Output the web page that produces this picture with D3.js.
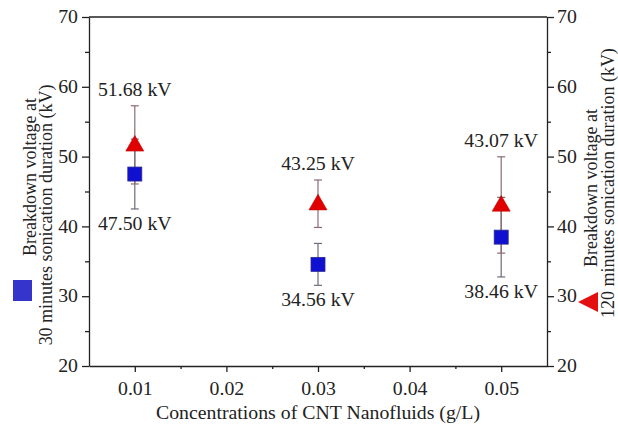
<!DOCTYPE html>
<html><head><meta charset="utf-8">
<script src="https://cdn.jsdelivr.net/npm/d3@7"></script>
<style>
html,body{margin:0;padding:0;background:#fff;}
svg text{font-family:"Liberation Serif","DejaVu Serif","Noto Serif",serif !important;fill:#222;}
</style></head>
<body><svg id="c" width="618" height="426"></svg>
<script>
const concentrations = [0.01, 0.03, 0.05];
const bv30 = [47.50, 34.56, 38.46];
const bv30Err = [5.0, 3.0, 5.7];
const bv120 = [51.68, 43.25, 43.07];
const bv120Err = [5.6, 3.4, 6.9];
const xTicks = [0.01, 0.02, 0.03, 0.04, 0.05];
const xMinor = [0.015, 0.025, 0.035, 0.045];
const yTicks = [20, 30, 40, 50, 60, 70];
const yMinor = [25, 35, 45, 55, 65];
const xTitle = "Concentrations of CNT Nanofluids (g/L)";
const yLeftTitle = ["Breakdown voltage at", "30 minutes sonication duration (kV)"];
const yRightTitle = ["Breakdown voltage at", "120 minutes sonication duration (kV)"];

const FONT = "'Liberation Serif', 'DejaVu Serif', 'Noto Serif', serif";
const svg = d3.select("#c");
const L = 89, R = 547, T = 17, B = 366;
const x = d3.scaleLinear().domain([0.005, 0.055]).range([L, R]);
const y = d3.scaleLinear().domain([20, 70]).range([B, T]);
const fs = 18;
const stretch = 1.1;
const axColor = "#222";

svg.append("line").attr("x1", L).attr("x2", R).attr("y1", T).attr("y2", T)
  .attr("stroke", axColor).attr("stroke-width", 1.3);

function styleAxis(g) {
  g.attr("font-family", FONT).attr("font-size", fs);
  g.selectAll("path,line").attr("stroke", axColor).attr("stroke-width", 1.3);
  g.selectAll("text").attr("font-size", fs).style("font-family", FONT).attr("fill", "#222").classed("hz", true);
}
const gx = svg.append("g").attr("transform", `translate(0,${B})`)
  .call(d3.axisBottom(x).tickValues(xTicks).tickFormat(d3.format(".2f")).tickSize(6).tickPadding(10).tickSizeOuter(0));
styleAxis(gx);
const gxm = svg.append("g").attr("transform", `translate(0,${B})`)
  .call(d3.axisBottom(x).tickValues(xMinor).tickFormat("").tickSize(3).tickSizeOuter(0));
styleAxis(gxm); gxm.select("path").remove();

const gl = svg.append("g").attr("transform", `translate(${L},0)`)
  .call(d3.axisLeft(y).tickValues(yTicks).tickSize(7).tickPadding(4).tickSizeOuter(0));
styleAxis(gl);
const glm = svg.append("g").attr("transform", `translate(${L},0)`)
  .call(d3.axisLeft(y).tickValues(yMinor).tickFormat("").tickSize(4).tickSizeOuter(0));
styleAxis(glm); glm.select("path").remove();

const gr = svg.append("g").attr("transform", `translate(${R},0)`)
  .call(d3.axisRight(y).tickValues(yTicks).tickSize(7).tickPadding(3).tickSizeOuter(0));
styleAxis(gr);
const grm = svg.append("g").attr("transform", `translate(${R},0)`)
  .call(d3.axisRight(y).tickValues(yMinor).tickFormat("").tickSize(4).tickSizeOuter(0));
styleAxis(grm); grm.select("path").remove();

function errBars(vals, errs, color) {
  const g = svg.append("g").attr("stroke", color).attr("stroke-width", 1.2);
  concentrations.forEach((c, i) => {
    const cx = x(c), y1 = y(vals[i] + errs[i]), y2 = y(vals[i] - errs[i]);
    g.append("line").attr("x1", cx).attr("x2", cx).attr("y1", y1).attr("y2", y2);
    g.append("line").attr("x1", cx - 4).attr("x2", cx + 4).attr("y1", y1).attr("y2", y1);
    g.append("line").attr("x1", cx - 4).attr("x2", cx + 4).attr("y1", y2).attr("y2", y2);
  });
}
errBars(bv30, bv30Err, "#6c6c7c");
errBars(bv120, bv120Err, "#8a6c70");

svg.append("g").selectAll("rect").data(concentrations).join("rect")
  .attr("x", d => x(d) - 7).attr("y", (d, i) => y(bv30[i]) - 7)
  .attr("width", 14).attr("height", 14)
  .attr("fill", "#1010d0").attr("stroke", "#2a2a90").attr("stroke-width", 0.8);

const tri = d3.symbol().type(d3.symbolTriangle).size(140);
svg.append("g").selectAll("path").data(concentrations).join("path")
  .attr("d", tri)
  .attr("transform", (d, i) => `translate(${x(d)},${y(bv120[i]) + 1})`)
  .attr("fill", "#e00000").attr("stroke", "#c00000").attr("stroke-width", 0.6);

function txt(sel) { return sel.style("font-family", FONT).attr("font-size", fs); }

txt(svg.append("g").selectAll("text").data(concentrations).join("text")
  .attr("class", "hz")
  .attr("x", d => x(d)).attr("y", (d, i) => y(bv120[i] + bv120Err[i]) - 10)
  .attr("text-anchor", "middle")
  .text((d, i) => bv120[i].toFixed(2) + " kV"));
txt(svg.append("g").selectAll("text").data(concentrations).join("text")
  .attr("class", "hz")
  .attr("x", d => x(d)).attr("y", (d, i) => y(bv30[i] - bv30Err[i]) + 21)
  .attr("text-anchor", "middle")
  .text((d, i) => bv30[i].toFixed(2) + " kV"));

txt(svg.append("text").attr("class", "hz").attr("x", (L + R) / 2).attr("y", 419)
  .attr("text-anchor", "middle").text(xTitle));

txt(svg.append("text").attr("transform", `translate(36,177) scale(${stretch},1) rotate(-90)`)
  .attr("text-anchor", "middle").text(yLeftTitle[0]));
txt(svg.append("text").attr("transform", `translate(52,215) scale(${stretch},1) rotate(-90)`)
  .attr("text-anchor", "middle").text(yLeftTitle[1]));
svg.append("rect").attr("x", 13).attr("y", 280).attr("width", 19).attr("height", 21)
  .attr("fill", "#3535cc");

txt(svg.append("text").attr("transform", `translate(597,188) scale(${stretch},1) rotate(-90)`)
  .attr("text-anchor", "middle").text(yRightTitle[0]));
txt(svg.append("text").attr("transform", `translate(614,183) scale(${stretch},1) rotate(-90)`)
  .attr("text-anchor", "middle").text(yRightTitle[1]));
svg.append("path").attr("d", "M578,302 L598,292 L598,312 Z").attr("fill", "#e41010");

// horizontal stretch of horizontal text, as in the reference
svg.selectAll("text.hz").each(function() {
  const w = this.getComputedTextLength();
  d3.select(this).attr("textLength", w * stretch).attr("lengthAdjust", "spacingAndGlyphs");
});
</script>
</body></html>
